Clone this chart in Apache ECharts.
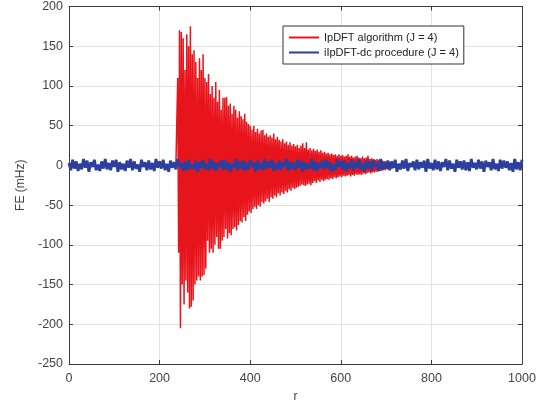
<!DOCTYPE html>
<html>
<head>
<meta charset="utf-8">
<script src="https://cdn.jsdelivr.net/npm/echarts@6/dist/echarts.min.js"></script>
<style>html,body{margin:0;padding:0;background:#fff}#c{width:548px;height:408px}</style>
</head>
<body>
<div id="c"></div>
<script>
// ---- data ----
var xTicks = [0, 200, 400, 600, 800, 1000];
var yTicks = [-250, -200, -150, -100, -50, 0, 50, 100, 150, 200];
var seriesNames = ['IpDFT algorithm (J = 4)', 'iIpDFT-dc procedure (J = 4)'];

// IpDFT algorithm: samples every 2 units of r, starting at r = 236
var redStartR = 236;
var redStepR = 2;
var redValues = [
  0,2,110,-110,170,-205,168,-150,160,-175,
  120,-145,165,-160,150,-180,175,-178,140,-170,
  145,-150,130,-145,110,-140,135,-145,120,-140,
  140,-138,110,-130,105,-95,115,-110,90,-105,
  100,-110,85,-100,105,-90,80,-105,95,-105,
  70,-95,85,-90,85,-80,86,-92,75,-85,
  78,-88,65,-80,75,-78,70,-82,60,-75,
  68,-70,62,-72,58,-65,65,-70,55,-62,
  52,-58,50,-60,45,-55,50,-52,42,-55,
  46,-50,40,-52,44,-46,45,-48,38,-45,
  40,-42,36,-46,38,-40,35,-42,40,-38,
  33,-40,36,-35,32,-38,30,-34,33,-36,
  28,-32,30,-34,26,-30,29,-32,25,-28,
  27,-30,24,-28,26,-27,22,-26,25,-24,
  28,-25,22,-26,29,-24,20,-23,22,-25,
  19,-22,21,-20,18,-22,20,-19,17,-21,
  19,-18,16,-20,17,-18,15,-17,16,-18,
  14,-16,15,-17,13,-15,14,-16,12,-15,
  14,-14,12,-15,13,-13,11,-14,12,-13,
  14,-12,11,-14,12,-12,10,-13,11,-11,
  12,-12,10,-11,9,-12,11,-10,9,-11,
  10,-10,12,-9,8,-10,9,-9,8,-9,
  7,-8,8,-8,7,-7,6,-7,6,-6,
  5,-6,5,-5,4,-5,4,-4,3,-4,
  3,-3,2,-2,0
];

// iIpDFT-dc procedure: samples every 4 units of r, starting at r = 0
var blueStartR = 0;
var blueStepR = 4;
var blueValues = [
  3,-6,7,-4,5,-7,2,-5,8,-3,
  6,-8,4,-2,7,-6,1,-7,5,-4,
  8,-5,3,-6,6,-2,7,-8,4,-5,
  2,-7,6,-3,8,-6,5,-4,1,-8,
  7,-2,4,-6,6,-5,3,-7,8,-3,
  5,-4,7,-6,2,-8,6,-3,4,-5,
  8,-2,3,-7,5,-6,7,-4,1,-5,
  6,-8,4,-3,7,-5,2,-6,8,-4,
  5,-7,3,-2,6,-6,7,-5,4,-8,
  2,-3,8,-6,5,-4,6,-7,3,-5,
  7,-2,4,-8,6,-5,3,-6,8,-4,
  5,-3,7,-7,2,-5,6,-6,4,-2,
  8,-7,5,-4,3,-6,7,-3,6,-8,
  4,-5,2,-4,8,-6,5,-7,3,-3,
  6,-5,7,-4,4,-8,1,-6,8,-2,
  5,-5,6,-7,3,-4,7,-6,4,-3,
  8,-5,2,-8,6,-4,5,-6,7,-2,
  3,-7,8,-5,4,-4,6,-6,5,-3,
  7,-8,2,-5,6,-4,8,-7,3,-2,
  5,-6,7,-5,4,-3,6,-8,8,-4,
  3,-6,7,-5,5,-7,4,-2,8,-6,
  6,-4,2,-8,7,-3,5,-5,6,-6,
  4,-7,8,-3,3,-5,7,-4,5,-8,
  6,-2,4,-6,8,-5,2,-7,7,-4,
  6,-3,5,-6,3,-8,8,-5,4,-6,
  7
];

// ---- build ----
var redData = redValues.map(function (v, i) { return [redStartR + i * redStepR, v]; });
var blueData = blueValues.map(function (v, i) { return [blueStartR + i * blueStepR, v]; });

var font = 'Liberation Sans, Arial, sans-serif';
var axisCol = '#3a3a3a';
var gridCol = '#e2e2e2';
var redCol = '#e8141b';
var blueCol = '#2c3f9f';

function boxAxis(pos, min, max, interval) {
  return {
    type: 'value', position: pos, min: min, max: max, interval: interval,
    axisLine: { show: true, onZero: false, lineStyle: { color: axisCol, width: 1 } },
    axisTick: { show: true, inside: true, length: 4, lineStyle: { color: axisCol } },
    axisLabel: { show: false }, splitLine: { show: false }
  };
}

var chart = echarts.init(document.getElementById('c'));
chart.setOption({
  animation: false,
  backgroundColor: '#fff',
  grid: { left: 69, right: 26, top: 6, bottom: 44 },
  legend: {
    orient: 'vertical',
    left: 283, top: 26,
    icon: 'rect',
    data: [
      { name: seriesNames[0], itemStyle: { color: redCol } },
      { name: seriesNames[1], itemStyle: { color: blueCol } }
    ],
    backgroundColor: '#fff',
    borderColor: '#333', borderWidth: 1, borderRadius: 0,
    padding: [5, 5, 5, 6],
    itemGap: 2, itemWidth: 30, itemHeight: 2,
    textStyle: { fontFamily: font, fontSize: 11, color: '#222', lineHeight: 13 }
  },
  xAxis: [{
    type: 'value', min: xTicks[0], max: xTicks[xTicks.length - 1], interval: 200,
    name: 'r', nameLocation: 'middle', nameGap: 27,
    nameTextStyle: { fontFamily: font, fontSize: 12, color: '#444' },
    axisLine: { show: true, onZero: false, lineStyle: { color: axisCol, width: 1 } },
    axisTick: { show: true, inside: true, length: 4, lineStyle: { color: axisCol } },
    axisLabel: { fontFamily: font, fontSize: 12.5, color: '#444', margin: 8, formatter: function (v) { return String(v); } },
    splitLine: { show: true, lineStyle: { color: gridCol, width: 1 } }
  }, boxAxis('top', xTicks[0], xTicks[xTicks.length - 1], 200)],
  yAxis: [{
    type: 'value', min: yTicks[0], max: yTicks[yTicks.length - 1], interval: 50,
    name: 'FE (mHz)', nameLocation: 'middle', nameGap: 41,
    nameTextStyle: { fontFamily: font, fontSize: 12, color: '#444' },
    axisLine: { show: true, onZero: false, lineStyle: { color: axisCol, width: 1 } },
    axisTick: { show: true, inside: true, length: 4, lineStyle: { color: axisCol } },
    axisLabel: { fontFamily: font, fontSize: 12.5, color: '#444', margin: 6, formatter: function (v) { return String(v); } },
    splitLine: { show: true, lineStyle: { color: gridCol, width: 1 } }
  }, boxAxis('right', yTicks[0], yTicks[yTicks.length - 1], 50)],
  series: [{
    name: seriesNames[0], type: 'line', data: redData,
    symbol: 'none', showSymbol: false,
    lineStyle: { color: redCol, width: 1.5 }, itemStyle: { color: redCol },
    z: 2
  }, {
    name: seriesNames[1], type: 'line', data: blueData,
    symbol: 'none', showSymbol: false,
    lineStyle: { color: blueCol, width: 2.8 }, itemStyle: { color: blueCol },
    z: 3
  }]
});
</script>
</body>
</html>
